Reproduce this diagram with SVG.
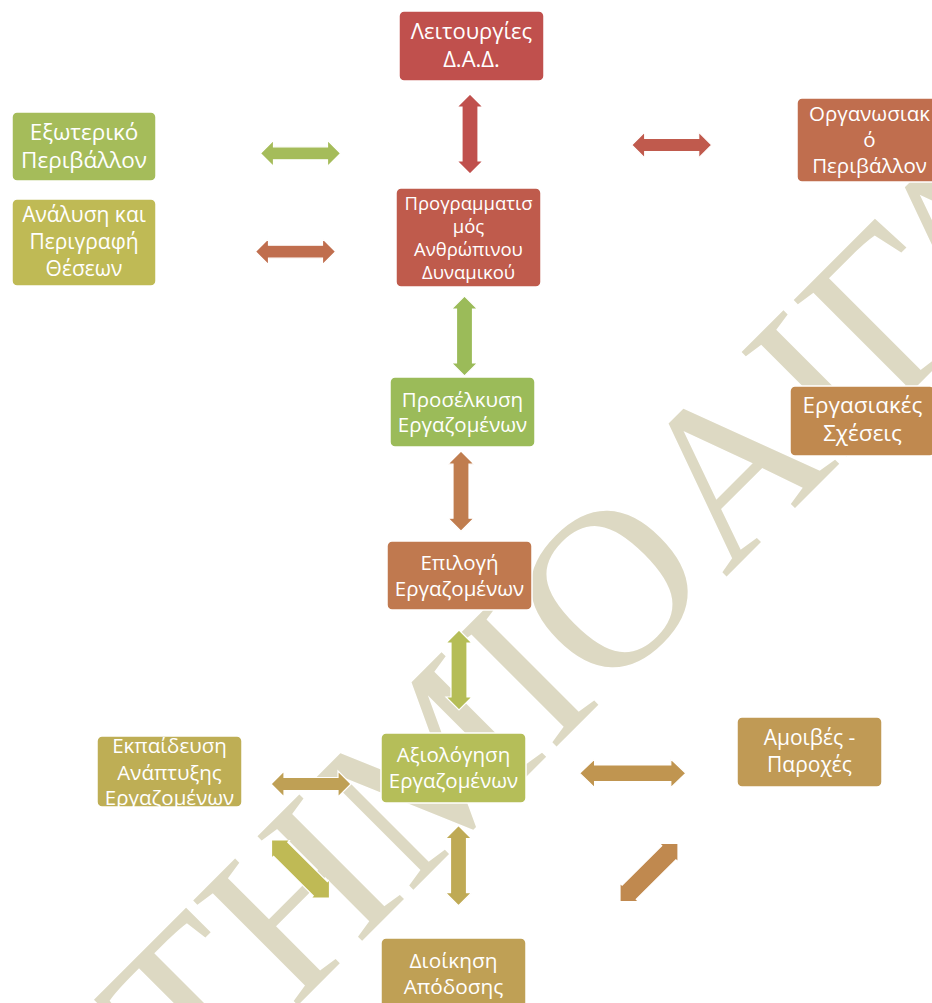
<svg xmlns="http://www.w3.org/2000/svg" xmlns:xlink="http://www.w3.org/1999/xlink" width="932" height="1003" viewBox="0 0 932 1003">
  <style>
    .box { stroke: #ffffff; stroke-width: 1.5; }
    .lbl { font-family: "Open Sans", "Noto Sans", "DejaVu Sans", sans-serif; fill: #ffffff; text-anchor: middle; }
    .arr { stroke: #ffffff; stroke-width: 1.2; }
    .wm { font-family: "Liberation Serif", "Times New Roman", serif; fill: #DDD9C3; font-size: 226px; }
  </style>
  <defs>
    <!-- double-headed block arrows, 80 long, centred on the origin, pointing along x -->
    <path id="dblH" d="M-40 0 L-27 -13 L-27 -6.5 L27 -6.5 L27 -13 L40 0 L27 13 L27 6.5 L-27 6.5 L-27 13 Z"/>
    <path id="dblV" d="M-40 0 L-27 -13 L-27 -8 L27 -8 L27 -13 L40 0 L27 13 L27 8 L-27 8 L-27 13 Z"/>
    <path id="dblD" d="M-41 0 L-28 -13 L-28 -10 L28 -10 L28 -13 L41 0 L28 13 L28 10 L-28 10 L-28 13 Z"/>
    <clipPath id="clipD1"><rect x="272" y="840" width="57" height="58"/></clipPath>
    <clipPath id="clipD2"><rect x="620" y="844" width="58" height="57"/></clipPath>
    <clipPath id="clipTraining"><rect x="97" y="736" width="145" height="71"/></clipPath>
  </defs>

  <rect width="932" height="1003" fill="#ffffff"/>

  <!-- background watermark, running diagonally behind the chart -->
  <g id="watermark" transform="translate(651.5 651.5) rotate(-45)">
    <text class="wm" text-anchor="end" x="96">ΣΤΗΜΙΟ</text>
    <text class="wm" x="104">ΑΙΓΑ</text>
  </g>

  <!-- connectors -->
  <g id="connectors">
    <use xlink:href="#dblH" class="arr" fill="#A5BC5A" transform="translate(300.5 153.3)"/>
    <use xlink:href="#dblH" class="arr" fill="#C06E4E" transform="translate(295.5 251.7)"/>
    <use xlink:href="#dblV" class="arr" fill="#C0504D" transform="translate(470 134) rotate(90)"/>
    <use xlink:href="#dblH" class="arr" fill="#C05A4D" transform="translate(671.7 145)"/>
    <use xlink:href="#dblV" class="arr" fill="#9BBB59" transform="translate(464.5 336) rotate(90)"/>
    <use xlink:href="#dblV" class="arr" fill="#C07D4F" transform="translate(461 491.2) rotate(90)"/>
    <use xlink:href="#dblV" class="arr" fill="#B5BD57" transform="translate(459 670) rotate(90)"/>
    <use xlink:href="#dblH" class="arr" fill="#BFA055" transform="translate(311 784)"/>
    <path class="arr" fill="#C09550" d="M579.6 773.3 L594.6 759 L594.6 765 L670.8 765 L670.8 759 L685.8 773.3 L670.8 787.6 L670.8 781.6 L594.6 781.6 L594.6 787.6 Z"/>
    <use xlink:href="#dblV" class="arr" fill="#BFAA55" transform="translate(458.5 865.7) rotate(90)"/>
    <g clip-path="url(#clipD1)">
      <use xlink:href="#dblD" class="arr" fill="#BFBA55" transform="translate(300.5 869) rotate(45)"/>
    </g>
    <g clip-path="url(#clipD2)">
      <use xlink:href="#dblD" class="arr" fill="#C0894F" transform="translate(649 872.5) rotate(-45)"/>
    </g>
  </g>

  <!-- nodes -->
  <g id="functions">
    <rect class="box" x="399" y="11" width="145" height="70" rx="5" fill="#C0504D"/>
    <text class="lbl" font-size="22"><tspan x="471.5" y="38.6">Λειτουργίες</tspan><tspan x="471.5" y="67.2">Δ.Α.Δ.</tspan></text>
  </g>
  <g id="planning">
    <rect class="box" x="396" y="188" width="145" height="99" rx="5" fill="#BF5B4C"/>
    <text class="lbl" font-size="18.5"><tspan x="468.5" y="209.5">Προγραμματισ</tspan><tspan x="468.5" y="232.5">μός</tspan><tspan x="468.5" y="256">Ανθρώπινου</tspan><tspan x="468.5" y="279">Δυναμικού</tspan></text>
  </g>
  <g id="organisational">
    <rect class="box" x="797" y="98" width="145" height="84" rx="5" fill="#C06E4E"/>
    <text class="lbl" font-size="20.5"><tspan x="869.5" y="121">Οργανωσιακ</tspan><tspan x="869.5" y="146.5">ό</tspan><tspan x="869.5" y="172.5">Περιβάλλον</tspan></text>
  </g>
  <g id="external">
    <rect class="box" x="12" y="112" width="144" height="69" rx="5" fill="#A5BC5A"/>
    <text class="lbl" font-size="22.5"><tspan x="84" y="139.7">Εξωτερικό</tspan><tspan x="84" y="167.7">Περιβάλλον</tspan></text>
  </g>
  <g id="job-analysis">
    <rect class="box" x="12" y="199" width="144" height="87" rx="5" fill="#BFBA55"/>
    <text class="lbl" font-size="21"><tspan x="84" y="222.3">Ανάλυση και</tspan><tspan x="84" y="249">Περιγραφή</tspan><tspan x="84" y="276">Θέσεων</tspan></text>
  </g>
  <g id="recruitment">
    <rect class="box" x="390" y="377" width="145" height="70" rx="5" fill="#9BBB59"/>
    <text class="lbl" font-size="20.5"><tspan x="462.5" y="406.5">Προσέλκυση</tspan><tspan x="462.5" y="432">Εργαζομένων</tspan></text>
  </g>
  <g id="labour-relations">
    <rect class="box" x="790" y="386" width="145" height="70" rx="5" fill="#C0894F"/>
    <text class="lbl" font-size="22.5"><tspan x="862.5" y="412.5">Εργασιακές</tspan><tspan x="862.5" y="440.5">Σχέσεις</tspan></text>
  </g>
  <g id="selection">
    <rect class="box" x="387" y="541" width="145" height="69" rx="5" fill="#C0794F"/>
    <text class="lbl" font-size="20.5"><tspan x="459.5" y="569.5">Επιλογή</tspan><tspan x="459.5" y="595.5">Εργαζομένων</tspan></text>
  </g>
  <g id="appraisal">
    <rect class="box" x="381" y="733" width="145" height="70" rx="5" fill="#B5BE59"/>
    <text class="lbl" font-size="20.5"><tspan x="453.5" y="761.7">Αξιολόγηση</tspan><tspan x="453.5" y="788.3">Εργαζομένων</tspan></text>
  </g>
  <g id="training">
    <rect class="box" x="97" y="736" width="145" height="71" rx="5" fill="#BEAE55"/>
    <g clip-path="url(#clipTraining)">
      <text class="lbl" font-size="20.5"><tspan x="169.5" y="753">Εκπαίδευση</tspan><tspan x="169.5" y="779.5">Ανάπτυξης</tspan><tspan x="169.5" y="805">Εργαζομένων</tspan></text>
    </g>
  </g>
  <g id="rewards">
    <rect class="box" x="737" y="717" width="145" height="70" rx="5" fill="#C09A55"/>
    <text class="lbl" font-size="21"><tspan x="809.5" y="745">Αμοιβές -</tspan><tspan x="809.5" y="771.7">Παροχές</tspan></text>
  </g>
  <g id="performance">
    <rect class="box" x="381" y="938" width="145" height="75" rx="5" fill="#BFA055"/>
    <text class="lbl" font-size="20.8"><tspan x="453.5" y="967.5">Διοίκηση</tspan><tspan x="453.5" y="993.5">Απόδοσης</tspan></text>
  </g>
</svg>
